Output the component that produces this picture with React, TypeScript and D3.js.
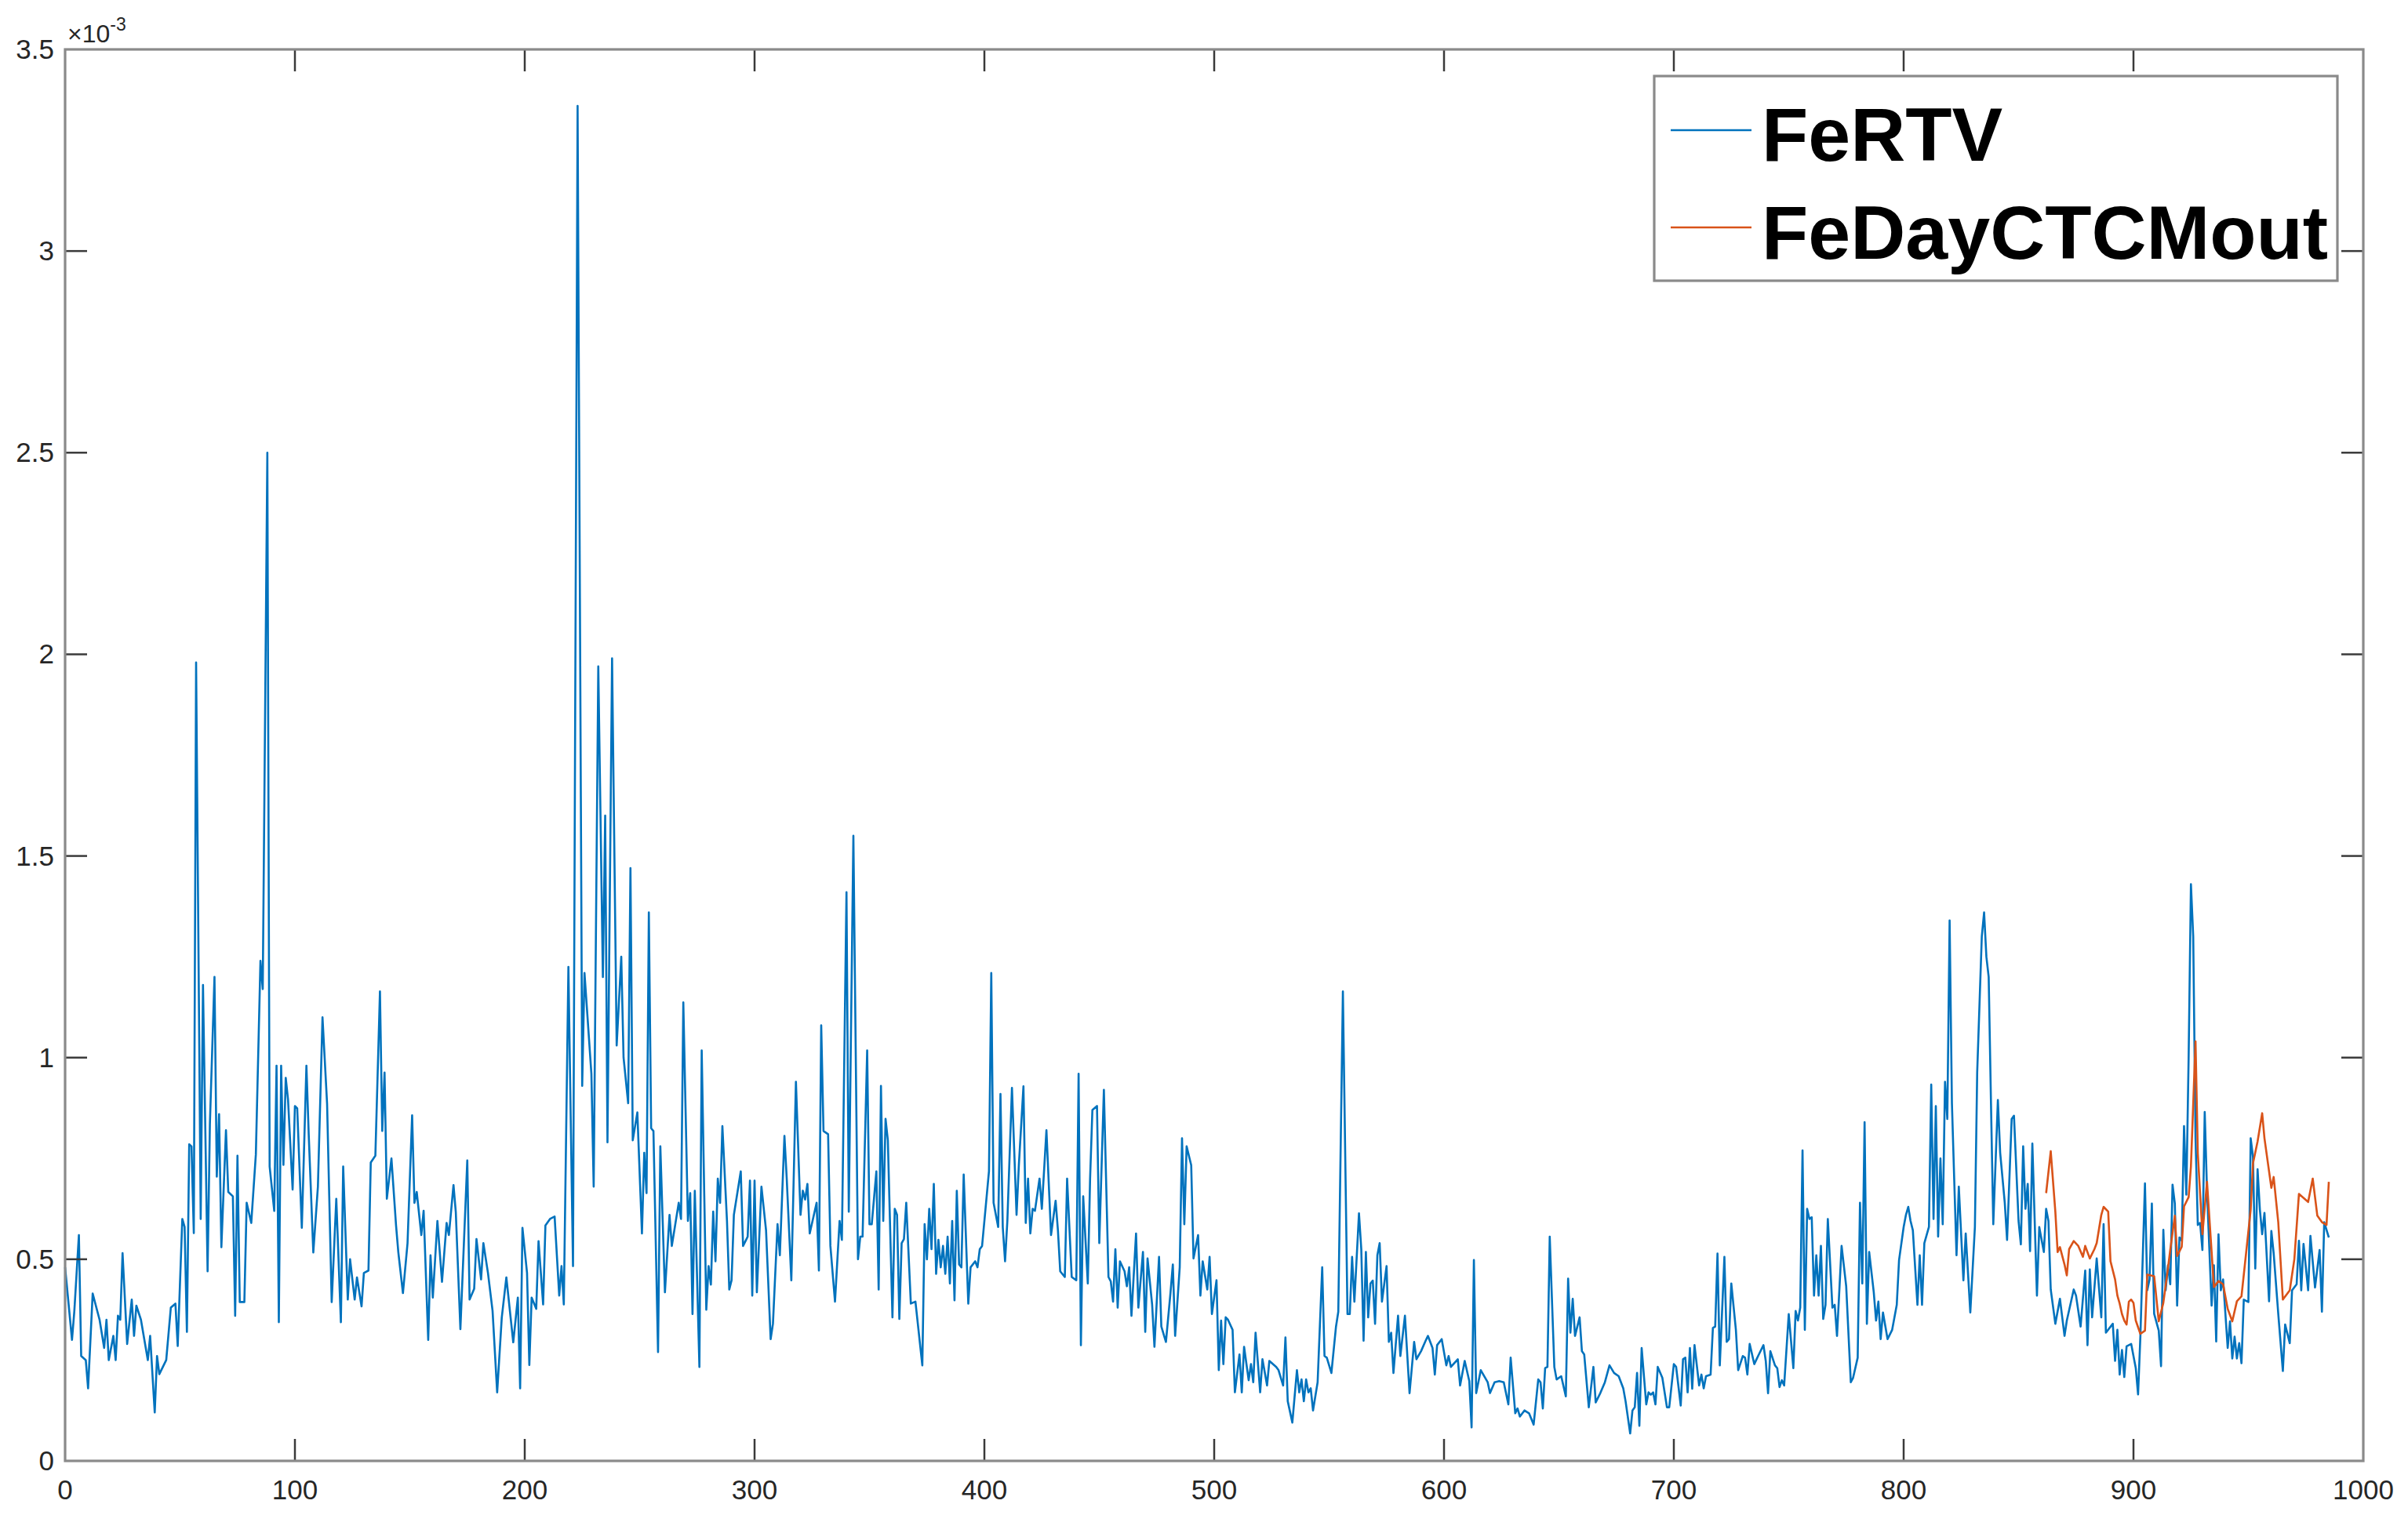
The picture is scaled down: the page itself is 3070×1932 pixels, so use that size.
import React from "react";
import * as d3 from "d3";

// FeRTV series: [sample index, value (×10^-3)]
const feRTV: [number, number][] = [
  [0,0.48],[3,0.30],[4,0.37],[6,0.56],[7,0.26],[9,0.25],[10,0.18],[12,0.415],[15,0.35],[17,0.28],[18,0.35],[19,0.25],
  [21,0.31],[22,0.25],[23,0.36],[24,0.35],[25,0.515],[27,0.29],[29,0.40],[30,0.31],[31,0.385],[33,0.35],[36,0.25],[37,0.31],
  [39,0.12],[40,0.26],[41,0.215],[44,0.25],[46,0.38],[48,0.39],[49,0.285],[51,0.60],[52,0.58],[53,0.32],[54,0.785],[55,0.78],
  [56,0.565],[57,1.98],[59,0.60],[60,1.18],[62,0.47],[63,0.835],[65,1.20],[66,0.705],[67,0.86],[68,0.53],[70,0.82],[71,0.667],
  [73,0.656],[74,0.36],[75,0.757],[76,0.394],[78,0.394],[79,0.64],[81,0.59],[83,0.76],[85,1.24],[86,1.17],[88,2.50],[89,0.73],
  [91,0.62],[92,0.98],[93,0.344],[94,0.98],[95,0.734],[96,0.95],[97,0.896],[99,0.673],[100,0.88],[101,0.874],[103,0.578],[105,0.98],
  [106,0.81],[108,0.517],[110,0.68],[112,1.10],[114,0.885],[116,0.394],[118,0.65],[120,0.344],[121,0.73],[123,0.40],[124,0.50],
  [126,0.40],[127,0.455],[129,0.383],[130,0.466],[132,0.472],[133,0.74],[135,0.757],[137,1.164],[138,0.818],[139,0.963],[140,0.65],
  [142,0.75],[144,0.584],[145,0.517],[147,0.416],[149,0.54],[151,0.857],[152,0.64],[153,0.667],[155,0.56],[156,0.62],[158,0.30],
  [159,0.51],[160,0.405],[162,0.595],[164,0.444],[166,0.59],[167,0.56],[169,0.684],[170,0.617],[172,0.327],[175,0.745],[176,0.40],
  [178,0.427],[179,0.55],[181,0.45],[182,0.54],[184,0.466],[186,0.372],[188,0.17],[190,0.355],[192,0.455],[195,0.294],[197,0.405],
  [198,0.18],[199,0.578],[201,0.466],[202,0.238],[203,0.405],[205,0.377],[206,0.545],[208,0.388],[209,0.584],[211,0.60],[213,0.606],
  [215,0.41],[216,0.483],[217,0.388],[219,1.225],[221,0.483],[223,3.36],[225,0.93],[226,1.21],[229,0.96],[230,0.68],[232,1.97],
  [234,1.2],[235,1.60],[236,0.79],[238,1.99],[240,1.03],[242,1.25],[243,1.0],[245,0.887],[246,1.47],[247,0.795],[249,0.864],
  [251,0.564],[252,0.764],[253,0.664],[254,1.36],[255,0.825],[256,0.818],[258,0.27],[259,0.78],[261,0.418],[263,0.61],[264,0.533],
  [267,0.64],[268,0.60],[269,1.137],[271,0.595],[272,0.664],[273,0.364],[274,0.67],[276,0.233],[277,1.018],[279,0.375],[280,0.483],
  [281,0.437],[282,0.618],[283,0.495],[284,0.70],[285,0.64],[286,0.83],[288,0.595],[289,0.425],[290,0.448],[291,0.61],[294,0.718],
  [295,0.533],[297,0.556],[298,0.695],[299,0.41],[300,0.695],[301,0.418],[303,0.68],[305,0.572],[307,0.302],[308,0.34],[310,0.587],
  [311,0.51],[313,0.806],[314,0.70],[316,0.448],[318,0.94],[320,0.61],[321,0.67],[322,0.648],[323,0.687],[324,0.564],[327,0.64],
  [328,0.472],[329,1.08],[330,0.818],[332,0.81],[333,0.533],[335,0.395],[337,0.595],[338,0.548],[340,1.41],[341,0.618],[343,1.55],
  [345,0.50],[346,0.556],[347,0.556],[349,1.018],[350,0.587],[351,0.587],[353,0.718],[354,0.425],[355,0.93],[356,0.595],[357,0.848],
  [358,0.795],[360,0.356],[361,0.625],[362,0.61],[363,0.352],[364,0.54],[365,0.55],[366,0.64],[368,0.39],[370,0.395],[373,0.237],
  [374,0.587],[375,0.50],[376,0.625],[377,0.525],[378,0.687],[379,0.464],[380,0.548],[381,0.48],[382,0.533],[383,0.464],[384,0.556],
  [385,0.44],[386,0.595],[387,0.398],[388,0.67],[389,0.487],[390,0.48],[391,0.71],[393,0.39],[394,0.48],[396,0.495],[397,0.48],
  [398,0.525],[399,0.533],[402,0.718],[403,1.21],[404,0.64],[406,0.58],[407,0.91],[408,0.58],[409,0.495],[410,0.595],[412,0.925],
  [414,0.61],[415,0.733],[417,0.929],[418,0.59],[419,0.70],[420,0.564],[421,0.625],[422,0.62],[424,0.70],[425,0.625],[427,0.82],
  [429,0.56],[431,0.645],[432,0.572],[433,0.47],[435,0.456],[436,0.70],[438,0.456],[440,0.448],[441,0.96],[442,0.287],[443,0.656],
  [445,0.44],[446,0.70],[447,0.87],[449,0.88],[450,0.54],[452,0.92],[454,0.456],[455,0.445],[456,0.395],[457,0.525],[458,0.38],
  [459,0.495],[461,0.47],[462,0.433],[463,0.48],[464,0.36],[466,0.564],[467,0.38],[469,0.518],[470,0.32],[471,0.502],[473,0.387],
  [474,0.283],[476,0.506],[477,0.333],[479,0.295],[481,0.418],[482,0.487],[483,0.31],[485,0.48],[486,0.80],[487,0.587],[488,0.78],
  [490,0.733],[491,0.502],[493,0.56],[494,0.41],[495,0.495],[497,0.425],[498,0.506],[499,0.364],[501,0.448],[502,0.225],[503,0.348],
  [504,0.24],[505,0.356],[506,0.35],[508,0.325],[509,0.17],[511,0.264],[512,0.17],[513,0.283],[515,0.20],[516,0.24],[517,0.195],
  [518,0.318],[520,0.17],[521,0.252],[523,0.187],[524,0.248],[527,0.233],[528,0.225],[530,0.187],[531,0.306],[532,0.148],[534,0.095],
  [536,0.225],[537,0.17],[538,0.202],[539,0.148],[540,0.202],[541,0.17],[542,0.18],[543,0.125],[545,0.195],[547,0.48],[548,0.26],
  [549,0.256],[551,0.218],[553,0.333],[554,0.37],[556,1.164],[558,0.364],[559,0.364],[560,0.506],[561,0.395],[563,0.614],[564,0.525],
  [565,0.298],[566,0.518],[567,0.356],[568,0.44],[569,0.447],[570,0.34],[571,0.51],[572,0.54],[573,0.395],[575,0.483],[576,0.295],
  [577,0.318],[578,0.218],[580,0.36],[581,0.26],[583,0.36],[585,0.168],[587,0.295],[588,0.252],[590,0.272],[592,0.298],[593,0.31],
  [595,0.28],[596,0.214],[597,0.287],[599,0.302],[601,0.237],[602,0.26],[603,0.233],[606,0.252],[607,0.187],[609,0.248],[611,0.198],
  [612,0.083],[613,0.498],[614,0.168],[616,0.225],[619,0.195],[620,0.168],[622,0.195],[624,0.198],[626,0.195],[628,0.14],[629,0.256],
  [631,0.118],[632,0.13],[633,0.11],[635,0.125],[637,0.118],[639,0.09],[641,0.202],[642,0.195],[643,0.13],[644,0.23],[645,0.233],
  [646,0.556],[648,0.233],[649,0.202],[651,0.21],[653,0.16],[654,0.452],[655,0.318],[656,0.402],[657,0.31],[659,0.356],[660,0.272],
  [661,0.264],[663,0.133],[665,0.233],[666,0.145],[668,0.168],[670,0.195],[672,0.237],[674,0.218],[676,0.21],[678,0.18],[679,0.148],
  [681,0.068],[682,0.125],[683,0.133],[684,0.218],[685,0.087],[686,0.28],[688,0.14],[689,0.17],[690,0.164],[691,0.17],[692,0.14],
  [693,0.233],[695,0.206],[697,0.133],[698,0.133],[700,0.24],[701,0.233],[703,0.137],[704,0.252],[705,0.256],[706,0.17],[707,0.28],
  [708,0.179],[709,0.287],[711,0.187],[712,0.214],[713,0.18],[714,0.21],[716,0.214],[717,0.33],[718,0.333],[719,0.514],[720,0.237],
  [722,0.506],[723,0.295],[724,0.302],[725,0.44],[727,0.325],[728,0.225],[730,0.26],[731,0.256],[732,0.214],[733,0.29],[735,0.24],
  [736,0.252],[737,0.264],[739,0.287],[740,0.248],[741,0.168],[742,0.272],[744,0.237],[745,0.23],[746,0.183],[747,0.2],[748,0.187],
  [750,0.364],[752,0.23],[753,0.372],[754,0.348],[755,0.38],[756,0.77],[757,0.325],[758,0.625],[759,0.60],[760,0.604],[761,0.41],
  [762,0.51],[763,0.41],[764,0.533],[765,0.352],[766,0.387],[767,0.60],[769,0.38],[770,0.387],[771,0.31],[773,0.533],[775,0.433],
  [777,0.195],[778,0.206],[780,0.256],[781,0.64],[782,0.44],[783,0.84],[784,0.34],[785,0.518],[787,0.418],[788,0.348],[789,0.395],
  [790,0.302],[791,0.368],[793,0.302],[795,0.325],[797,0.387],[798,0.498],[800,0.58],[801,0.61],[802,0.63],[803,0.595],[804,0.572],
  [806,0.387],[807,0.51],[808,0.387],[809,0.54],[811,0.58],[812,0.933],[813,0.60],[814,0.88],[815,0.556],[816,0.75],[817,0.587],
  [818,0.94],[819,0.848],[820,1.34],[821,0.887],[823,0.51],[824,0.68],[826,0.448],[827,0.564],[829,0.368],[831,0.58],[832,0.964],
  [834,1.30],[835,1.36],[836,1.25],[837,1.2],[838,0.887],[839,0.587],[841,0.895],[842,0.764],[844,0.64],[845,0.548],[847,0.848],
  [848,0.856],[850,0.595],[851,0.537],[852,0.78],[853,0.625],[854,0.687],[855,0.52],[856,0.787],[858,0.41],[859,0.58],[861,0.518],
  [862,0.625],[863,0.595],[864,0.425],[866,0.34],[868,0.402],[870,0.31],[871,0.348],[874,0.425],[875,0.41],[877,0.333],[879,0.472],
  [880,0.287],[881,0.475],[882,0.356],[884,0.502],[886,0.356],[887,0.587],[888,0.318],[891,0.34],[892,0.248],[893,0.325],[894,0.214],
  [895,0.275],[896,0.208],[897,0.284],[899,0.29],[901,0.23],[902,0.165],[903,0.308],[905,0.688],[906,0.423],[907,0.45],[908,0.638],
  [909,0.365],[911,0.323],[912,0.235],[913,0.573],[914,0.423],[915,0.485],[916,0.438],[917,0.685],[918,0.638],[919,0.385],[920,0.554],
  [921,0.546],[922,0.83],[923,0.66],[924,1.0],[925,1.43],[926,1.3],[927,0.8],[928,0.585],[929,0.59],[930,0.523],[931,0.865],
  [932,0.67],[934,0.385],[935,0.485],[936,0.296],[937,0.562],[938,0.423],[939,0.45],[941,0.28],[942,0.346],[943,0.254],[944,0.308],
  [945,0.254],[946,0.292],[947,0.242],[948,0.40],[950,0.394],[951,0.80],[952,0.754],[953,0.477],[954,0.723],[955,0.623],[956,0.562],
  [957,0.615],[959,0.396],[960,0.57],[961,0.515],[963,0.365],[965,0.223],[966,0.338],[968,0.292],[969,0.423],[971,0.438],[972,0.546],
  [973,0.423],[974,0.538],[976,0.423],[977,0.558],[979,0.43],[981,0.523],[982,0.37],[983,0.592],[985,0.554],
];

// FeDayCTCMout series: [sample index, value (×10^-3)]
const feDayCTCMout: [number, number][] = [
  [862,0.664],[864,0.768],[866,0.618],[867,0.518],[868,0.53],[870,0.487],[871,0.46],[872,0.525],[874,0.545],[876,0.533],[878,0.506],
  [879,0.533],[881,0.502],[883,0.525],[884,0.54],[886,0.61],[887,0.63],[889,0.618],[890,0.495],[892,0.45],[893,0.41],[894,0.39],
  [895,0.364],[896,0.348],[897,0.338],[898,0.395],[899,0.40],[900,0.392],[901,0.348],[903,0.315],[905,0.323],[906,0.462],[909,0.458],
  [911,0.346],[913,0.392],[915,0.477],[916,0.523],[918,0.608],[919,0.508],[921,0.531],[922,0.631],[924,0.654],[925,0.73],[927,1.04],
  [928,0.762],[930,0.562],[932,0.692],[935,0.431],[937,0.446],[939,0.438],[941,0.377],[943,0.346],[945,0.396],[947,0.408],[949,0.515],
  [951,0.623],[952,0.738],[954,0.792],[956,0.862],[957,0.80],[960,0.677],[961,0.704],[963,0.592],[965,0.40],[968,0.423],[970,0.50],
  [972,0.662],[976,0.642],[978,0.70],[980,0.608],[982,0.592],[984,0.585],[985,0.692],
];

const xTicks = [0, 100, 200, 300, 400, 500, 600, 700, 800, 900, 1000];
const yTicks = [0, 0.5, 1, 1.5, 2, 2.5, 3, 3.5];
const seriesNames = ["FeRTV", "FeDayCTCMout"];
const seriesColors = ["#0072BD", "#D95319"];

const W = 3070;
const H = 1932;
const L = 83, R = 3013, T = 63, B = 1863;
const TICK = 28;
const FONT = "'Liberation Sans', Arial, Helvetica, sans-serif";

export default function App() {
  const x = d3.scaleLinear().domain([0, 1000]).range([L, R]);
  const y = d3.scaleLinear().domain([0, 3.5]).range([B, T]);
  const line = d3.line<[number, number]>().x((d) => x(d[0])).y((d) => y(d[1]));
  const axisColor = "#8a8a8a";
  const tickColor = "#3a3a3a";
  const textColor = "#262626";

  return (
    <svg width={W} height={H} style={{ position: "absolute", left: 0, top: 0, background: "#fff" }}>
      <rect x={0} y={0} width={W} height={H} fill="#fff" />
      {/* data */}
      <path d={line(feRTV) || ""} fill="none" stroke={seriesColors[0]} strokeWidth={2.6} strokeLinejoin="round" />
      <path d={line(feDayCTCMout) || ""} fill="none" stroke={seriesColors[1]} strokeWidth={2.6} strokeLinejoin="round" />

      {/* ticks */}
      {xTicks.map((t) => (
        <g key={"xt" + t}>
          {t > 0 && t < 1000 && (
            <>
              <line x1={x(t)} x2={x(t)} y1={B} y2={B - TICK} stroke={tickColor} strokeWidth={2.5} />
              <line x1={x(t)} x2={x(t)} y1={T} y2={T + TICK} stroke={tickColor} strokeWidth={2.5} />
            </>
          )}
          <text x={x(t)} y={1912} textAnchor="middle" fontFamily={FONT} fontSize={35} fill={textColor}>
            {t}
          </text>
        </g>
      ))}
      {yTicks.map((t) => (
        <g key={"yt" + t}>
          {t > 0 && t < 3.5 && (
            <>
              <line x1={L} x2={L + TICK} y1={y(t)} y2={y(t)} stroke={tickColor} strokeWidth={2.5} />
              <line x1={R} x2={R - TICK} y1={y(t)} y2={y(t)} stroke={tickColor} strokeWidth={2.5} />
            </>
          )}
          <text x={L - 14} y={y(t) + 12} textAnchor="end" fontFamily={FONT} fontSize={35} fill={textColor}>
            {t}
          </text>
        </g>
      ))}

      {/* axes box */}
      <rect x={L} y={T} width={R - L} height={B - T} fill="none" stroke={axisColor} strokeWidth={3.2} />

      {/* exponent label */}
      <text x={86} y={54} fontFamily={FONT} fontSize={32} fill={textColor}>
        ×10
        <tspan fontSize={23} dy={-15}>-3</tspan>
      </text>

      {/* legend */}
      <rect x={2109} y={97} width={871} height={261} fill="#fff" stroke={axisColor} strokeWidth={3.2} />
      {seriesNames.map((n, i) => (
        <g key={n}>
          <line x1={2130} x2={2233} y1={166 + i * 124} y2={166 + i * 124} stroke={seriesColors[i]} strokeWidth={2.5} />
          <text x={2246} y={205 + i * 125} fontFamily={FONT} fontSize={97} fontWeight="bold" fill="#000">
            {n}
          </text>
        </g>
      ))}
    </svg>
  );
}
